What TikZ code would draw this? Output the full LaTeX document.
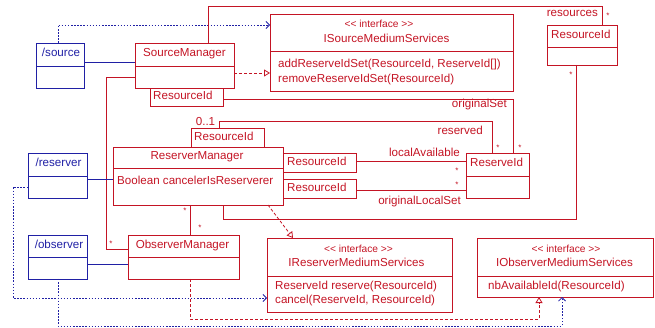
\documentclass[tikz,border=0pt]{standalone}
\usepackage{fontspec}
\setmainfont{Liberation Sans}
\usetikzlibrary{arrows.meta}
\definecolor{umlred}{RGB}{196,20,36}
\definecolor{umlblue}{RGB}{32,32,165}
\newcommand\umlbox[6]{%
  \node[box, draw=#6, minimum width={#4-#2}, minimum height={#5-#3}] (#1) at (#2,#3) {};}
\newcommand\stereotxt{<{}< interface >{}>}
\begin{document}
\begin{tikzpicture}[x=1pt, y=-1pt,
  font=\fontsize{11.6}{13}\selectfont,
  box/.style={line width=0.9pt, inner sep=0pt, outer sep=0pt, anchor=north west},
  txt/.style={inner sep=0pt, text=umlred, text height=8pt, text depth=2pt},
  btxt/.style={txt, text=umlblue},
  stereo/.style={txt, font=\fontsize{10.2}{11}\selectfont, text height=6.5pt, text depth=1.5pt},
  star/.style={inner sep=0pt, text=umlred, font=\fontsize{8}{9}\selectfont},
  rline/.style={draw=umlred, line width=0.8pt},
  bline/.style={draw=umlblue, line width=0.8pt},
  rdash/.style={rline, dash pattern=on 3pt off 2pt},
  bdot/.style={bline, line width=0.9pt, dash pattern=on 1.5pt off 1.6pt},
  opentri/.style={-{Triangle[open, length=6pt, width=7pt, line width=0.8pt]}},
  openv/.style={-{Straight Barb[length=3.5pt, width=7pt, line width=0.8pt]}}]
\useasboundingbox (0,0) rectangle (655,328);

% ---- boxes ----
\umlbox{src}{36}{43}{84}{88}{umlblue}
\umlbox{sm}{135}{43}{234}{88}{umlred}
\umlbox{ism}{270}{14}{513}{91}{umlred}
\umlbox{rida}{547}{25}{617}{65}{umlred}
\umlbox{smq}{150}{88}{223}{106}{umlred}
\umlbox{rm}{113}{147}{283}{205}{umlred}
\umlbox{rmq}{191}{128}{264}{147}{umlred}
\umlbox{rqa}{283}{153}{356}{172}{umlred}
\umlbox{rqb}{283}{179}{356}{198}{umlred}
\umlbox{ridb}{466}{153}{529}{198}{umlred}
\umlbox{rsv}{28}{153}{87}{198}{umlblue}
\umlbox{om}{128}{235}{239}{279}{umlred}
\umlbox{obs}{28}{235}{87}{279}{umlblue}
\umlbox{irm}{267}{238}{452}{312}{umlred}
\umlbox{iom}{477}{238}{653}{297}{umlred}

% ---- dividers ----
\draw[bline, line width=0.9pt] (src.west |- 0,66) -- (src.east |- 0,66);
\draw[rline, line width=0.9pt] (sm.west |- 0,66) -- (sm.east |- 0,66);
\draw[rline, line width=0.9pt] (ism.west |- 0,51) -- (ism.east |- 0,51);
\draw[rline, line width=0.9pt] (rida.west |- 0,47) -- (rida.east |- 0,47);
\draw[rline, line width=0.9pt] (rm.west |- 0,168) -- (rm.east |- 0,168);
\draw[rline, line width=0.9pt] (ridb.west |- 0,176) -- (ridb.east |- 0,176);
\draw[bline, line width=0.9pt] (rsv.west |- 0,176) -- (rsv.east |- 0,176);
\draw[rline, line width=0.9pt] (om.west |- 0,257) -- (om.east |- 0,257);
\draw[bline, line width=0.9pt] (obs.west |- 0,257) -- (obs.east |- 0,257);
\draw[rline, line width=0.9pt] (irm.west |- 0,276) -- (irm.east |- 0,276);
\draw[rline, line width=0.9pt] (iom.west |- 0,276) -- (iom.east |- 0,276);

% ---- texts ----
\node[btxt] (srct) at (61,54) {/source};
\node[txt] (smt) at (184.5,54) {SourceManager};
\node[stereo] (isms) at (379,25) {\stereotxt};
\node[txt] (ismt) at (386.5,40) {ISourceMediumServices};
\node[txt, anchor=west] (ismm1) at (278,65) {addReserveIdSet(ResourceId, ReserveId[])};
\node[txt, anchor=west] (ismm2) at (278,80) {removeReserveIdSet(ResourceId)};
\node[txt, anchor=west] (ridat) at (551,36) {ResourceId};
\node[txt, anchor=west] (smqt) at (153,97) {ResourceId};
\node[txt] (rmt) at (197,157) {ReserverManager};
\node[txt, anchor=west] (rma) at (117,182) {Boolean cancelerIsReserverer};
\node[txt, anchor=west] (rmqt) at (194,137.5) {ResourceId};
\node[txt, anchor=west] (rqat) at (287,162.5) {ResourceId};
\node[txt, anchor=west] (rqbt) at (287,188.5) {ResourceId};
\node[txt, anchor=west] (ridbt) at (470,164) {ReserveId};
\node[btxt] (rsvt) at (58.5,164) {/reserver};
\node[txt] (omt) at (182.5,246) {ObserverManager};
\node[btxt] (obst) at (59,246) {/observer};
\node[stereo] (irms) at (358.5,250.5) {\stereotxt};
\node[txt] (irmt) at (356.5,263.5) {IReserverMediumServices};
\node[txt, anchor=west] (irmm1) at (275,287) {ReserveId reserve(ResourceId)};
\node[txt, anchor=west] (irmm2) at (275,300) {cancel(ReserveId, ResourceId)};
\node[stereo] (ioms) at (566,250.5) {\stereotxt};
\node[txt] (iomt) at (564.5,263.5) {IObserverMediumServices};
\node[txt, anchor=west] (iomm) at (488,287) {nbAvailableId(ResourceId)};

% ---- role labels and multiplicities ----
\node[txt, anchor=east] (lres) at (598,14) {resources};
\node[star] (s1) at (608,16) {*};
\node[star] (s2) at (571,75) {*};
\node[txt, anchor=east] (lorig) at (507,105) {originalSet};
\node[txt] (l01) at (205.5,123) {0..1};
\node[txt, anchor=east] (lrsv) at (483,132) {reserved};
\node[txt, anchor=east] (lloc) at (460,154) {localAvailable};
\node[txt, anchor=east] (lol) at (461,201.5) {originalLocalSet};
\node[star] (s3) at (498,148) {*};
\node[star] (s4) at (520,148) {*};
\node[star] (s5) at (457,171) {*};
\node[star] (s6) at (457,185) {*};
\node[star] (s7) at (185,211) {*};
\node[star] (s8) at (200,228) {*};
\node[star] (s9) at (111,244) {*};

% ---- connectors ----
\draw[bdot, openv] (src.north -| 58,0) |- (ism.west |- 0,25);
\draw[bline] (src.east |- 0,62) -- (sm.west |- 0,62);
\draw[rline] (sm.north -| 208,0) -- (208,6) -| (rida.north -| 602,0);
\draw[rdash, opentri] (sm.east |- 0,73) -- (ism.west |- 0,73);
\draw[rline] (sm.west |- 0,77) -- (106,77) |- (om.west |- 0,249);
\draw[rline] (smq.east |- 0,99) -| (ridb.north -| 513,0);
\draw[rline] (rmq.north -| 219,0) -- (219,121) -| (ridb.north -| 492,0);
\draw[rline] (rqa.east |- 0,161) -- (ridb.west |- 0,161);
\draw[rline] (rqb.east |- 0,190) -- (ridb.west |- 0,190);
\draw[rline] (rida.south -| 576,0) -- (576,219) -| (rm.south -| 223,0);
\draw[rline] (rm.south -| 190,0) -- (om.north -| 190,0);
\draw[rdash, opentri] (rm.south -| 268,0) -- (irm.north -| 293,0);
\draw[bline] (rsv.east |- 0,179) -- (rm.west |- 0,179);
\draw[bline] (obs.east |- 0,264) -- (om.west |- 0,264);
\draw[bdot, openv] (rsv.west |- 0,187) -- (13,187) |- (irm.west |- 0,298);
\draw[bdot, openv] (obs.south -| 58,0) -- (58,326) -| (iom.south -| 562,0);
\draw[rdash, opentri] (om.south -| 190,0) -- (190,319) -| (iom.south -| 539,0);
\end{tikzpicture}
\end{document}
